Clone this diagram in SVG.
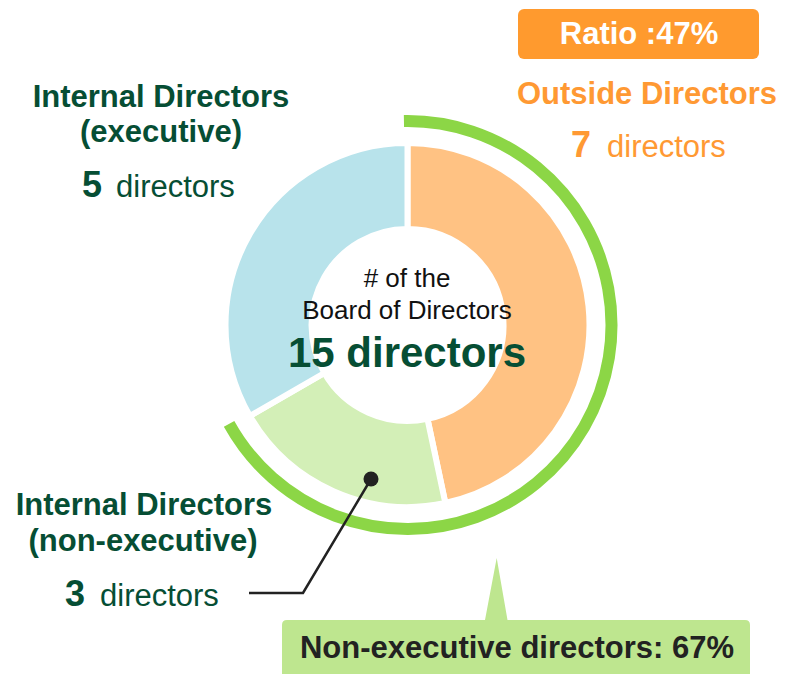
<svg xmlns="http://www.w3.org/2000/svg" width="787" height="674" viewBox="0 0 787 674">
<style>
text{font-family:"Liberation Sans",Arial,sans-serif}
.g{fill:#064E34}
.o{fill:#FF9933}
.b{font-weight:bold}
.h{font-size:31px;font-weight:bold;text-anchor:middle}
.num{font-size:36px;font-weight:bold}
.unit{font-size:31px}
.seg{stroke:#FFFFFF;stroke-width:6;stroke-linejoin:miter}
</style>
<rect width="787" height="674" fill="#FFFFFF"/>
<g id="donut">
<path class="seg" fill="#FFC283" d="M407.5,143 A182,182 0 0 1 445.34,503.02 L427.46,418.9 A96,96 0 0 0 407.5,229 Z"/>
<path class="seg" fill="#D3EFB7" d="M445.34,503.02 A182,182 0 0 1 249.88,416 L324.36,373 A96,96 0 0 0 427.46,418.9 Z"/>
<path class="seg" fill="#B8E3EB" d="M249.88,416 A182,182 0 0 1 407.5,143 L407.5,229 A96,96 0 0 0 324.36,373 Z"/>
</g>
<g id="nonexec-arc">
<path d="M403.94,121.03 A204,204 0 1 1 229.08,423.9" fill="none" stroke="#8CD646" stroke-width="12"/>
</g>
<g id="center">
<text x="407" y="287" font-size="26" text-anchor="middle" fill="#111">#&#160;of the</text>
<text x="407" y="319" font-size="26" text-anchor="middle" fill="#111">Board of Directors</text>
<text x="407" y="367" font-size="42" class="g b" text-anchor="middle">15 directors</text>
</g>
<g id="internal-exec">
<text x="161" y="107" class="h g">Internal Directors</text>
<text x="161" y="142" class="h g">(executive)</text>
<text x="82" y="197" class="num g">5</text>
<text x="116" y="197" class="unit g">directors</text>
</g>
<g id="outside">
<rect x="518" y="9" width="241" height="50" rx="6" fill="#FF9A2E"/>
<text x="639" y="44" class="h" fill="#FFFFFF">Ratio :47%</text>
<text x="647" y="104" class="h o">Outside Directors</text>
<text x="571" y="157" class="num o">7</text>
<text x="607" y="157" class="unit o">directors</text>
</g>
<g id="internal-nonexec">
<text x="144" y="515" class="h g">Internal Directors</text>
<text x="143" y="551" class="h g">(non-executive)</text>
<text x="65" y="606" class="num g">3</text>
<text x="100" y="606" class="unit g">directors</text>
</g>
<g id="nonexec-callout">
<path d="M287,620 L485,620 L496.7,558 L507.5,620 L745,620 Q750,620 750,625 L750,690 L282,690 L282,625 Q282,620 287,620 Z" fill="#BEE68F"/>
<text x="517" y="658" class="h" fill="#222222">Non-executive directors: 67%</text>
</g>
<g id="connectors">
<polyline points="249,593 303,593 371,479" fill="none" stroke="#222222" stroke-width="2.5"/>
<circle cx="371" cy="479" r="7.5" fill="#222222"/>
</g>
</svg>
